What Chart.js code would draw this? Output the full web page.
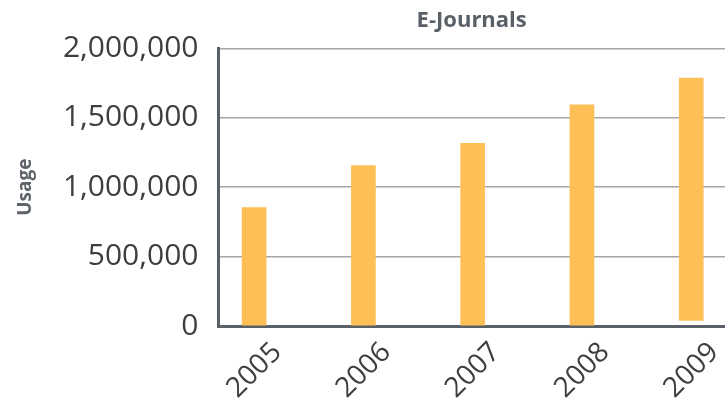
<!DOCTYPE html>
<html>
<head>
<meta charset="utf-8">
<script src="https://cdn.jsdelivr.net/npm/chart.js@4/dist/chart.umd.min.js"></script>
<style>
  html, body { margin: 0; padding: 0; background: #ffffff; }
  #wrap { width: 725px; height: 402px; position: relative; }
</style>
</head>
<body>
<div id="wrap"><canvas id="c" width="725" height="402"></canvas></div>
<script>
const years = [2005, 2006, 2007, 2008, 2009];
const barStart = [0, 0, 0, 0, 40000];
const usage = [854000, 1155000, 1316000, 1593000, 1786000];
const yTicks = [0, 500000, 1000000, 1500000, 2000000];

const points = years.map((yr, i) => ({ x: yr, y: [barStart[i], usage[i]] }));

const axisColor = '#5a6068';
const tickColor = '#3e3e3e';

new Chart(document.getElementById('c'), {
  type: 'bar',
  data: {
    datasets: [{
      label: 'E-Journals',
      data: points,
      backgroundColor: '#FDBF56',
      borderWidth: 0,
      barThickness: 24
    }]
  },
  options: {
    responsive: false,
    animation: false,
    devicePixelRatio: 1,
    layout: { padding: { left: 0, right: 0, top: 0, bottom: 0 } },
    plugins: {
      legend: { display: false },
      tooltip: { enabled: false },
      title: {
        display: true,
        text: 'E-Journals',
        fullSize: false,
        color: axisColor,
        font: { family: 'Open Sans', size: 22, weight: 'bold', lineHeight: 1.2 },
        padding: { top: 8, bottom: 14 }
      }
    },
    scales: {
      x: {
        type: 'linear',
        offset: false,
        min: 2004.674,
        max: 2009.308,
        afterBuildTicks: s => { s.ticks = years.map(v => ({ value: v })); },
        afterFit: s => { s.height = 76; },
        grid: { display: false, drawTicks: false, offset: false },
        border: { display: true, color: axisColor, width: 3 },
        ticks: {
          maxRotation: 45,
          minRotation: 45,
          padding: 10,
          labelOffset: 23,
          color: tickColor,
          font: { family: 'Open Sans', size: 28 },
          callback: v => String(v)
        }
      },
      y: {
        min: 0,
        max: 2000000,
        afterBuildTicks: s => { s.ticks = yTicks.map(v => ({ value: v })); },
        afterFit: s => { s.width = 218.5; },
        grid: { color: '#a6a6a6', lineWidth: 1.5, drawTicks: false },
        border: { display: true, color: axisColor, width: 3 },
        title: {
          display: true,
          text: 'Usage',
          color: '#5f646b',
          font: { family: 'Open Sans', size: 19, weight: 'bold' },
          padding: { top: 14, bottom: 0 }
        },
        ticks: {
          padding: 20,
          color: tickColor,
          font: { family: 'Open Sans', size: 30 },
          callback: v => v.toLocaleString('en-US')
        }
      }
    }
  }
});
</script>
</body>
</html>
